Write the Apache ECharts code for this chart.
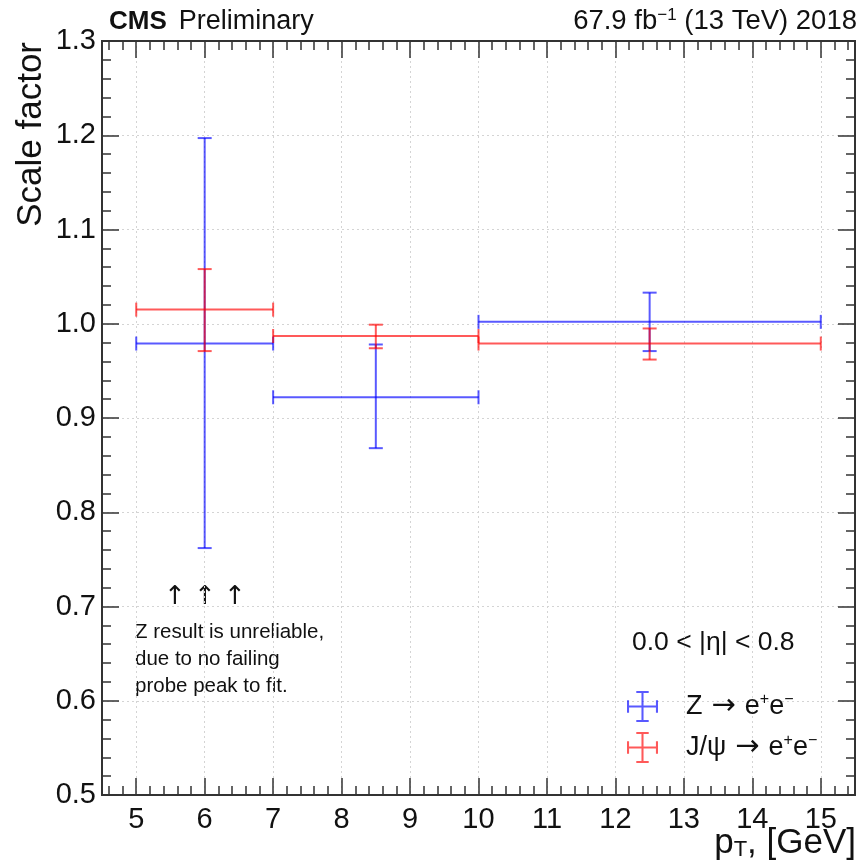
<!DOCTYPE html>
<html>
<head>
<meta charset="utf-8">
<script src="https://cdn.jsdelivr.net/npm/echarts@6/dist/echarts.min.js"></script>
<style>html,body{margin:0;padding:0;background:#fff;}#main{width:861px;height:868px;}</style>
</head>
<body>
<div id="main"></div>
<script>
// ---- data ----
const binLow = [5, 7, 10];
const binHigh = [7, 10, 15];
const binCenter = [6, 8.5, 12.5];
const zSF = [0.979, 0.922, 1.002];
const zLow = [0.762, 0.868, 0.971];
const zHigh = [1.197, 0.978, 1.033];
const jpsiSF = [1.015, 0.987, 0.979];
const jpsiLow = [0.971, 0.974, 0.962];
const jpsiHigh = [1.058, 0.999, 0.995];
const xMajorTicks = [5, 6, 7, 8, 9, 10, 11, 12, 13, 14, 15];
const yTickLabels = ['0.5', '0.6', '0.7', '0.8', '0.9', '1.0', '1.1', '1.2', '1.3'];
const annotationLines = ['Z result is unreliable,', 'due to no failing', 'probe peak to fit.'];

const xMinorTicks = [];
for (let v = 4.6; v < 15.5; v += 0.2) {
  const r = Math.round(v * 10) / 10;
  if (Math.abs(r - Math.round(r)) > 1e-6) xMinorTicks.push(r);
}

function rows(sf, lo, hi) {
  return sf.map((v, i) => [binLow[i], binHigh[i], binCenter[i], v, lo[i], hi[i]]);
}

const FONT = '"Liberation Sans", Arial, Helvetica, sans-serif';
const SYM = '"DejaVu Sans", sans-serif';
const TXT = '#111';
const GRID = {left: 102, right: 6, top: 41, bottom: 73};

function renderErr(params, api) {
  const xl = api.value(0), xh = api.value(1), xc = api.value(2);
  const y = api.value(3), yl = api.value(4), yh = api.value(5);
  const pL = api.coord([xl, y]), pH = api.coord([xh, y]);
  const pLo = api.coord([xc, yl]), pHi = api.coord([xc, yh]);
  const c = 7;
  const style = {stroke: api.visual('color'), lineWidth: 2, fill: null};
  const L = (x1, y1, x2, y2) => ({type: 'line', shape: {x1, y1, x2, y2}, style});
  return {type: 'group', children: [
    L(pL[0], pL[1], pH[0], pH[1]),
    L(pLo[0], pLo[1], pHi[0], pHi[1]),
    L(pL[0], pL[1] - c, pL[0], pL[1] + c),
    L(pH[0], pH[1] - c, pH[0], pH[1] + c),
    L(pLo[0] - c, pLo[1], pLo[0] + c, pLo[1]),
    L(pHi[0] - c, pHi[1], pHi[0] + c, pHi[1])
  ]};
}

const axisLine = {show: true, lineStyle: {color: '#333', width: 2}};
const splitLine = {show: true, lineStyle: {color: '#d4d4d4', width: 1, type: [2, 3]}};

const xBase = {type: 'value', min: 4.5, max: 15.5, axisLine: axisLine};
const yBase = {type: 'value', min: 0.5, max: 1.3, interval: 0.1};

const icon = 'path://M0,14h30v2h-30z M14,0h2v30h-2z M0,9h2v12h-2z M28,9h2v12h-2z M9,0h12v2h-12z M9,28h12v2h-12z';

const option = {
  animation: false,
  backgroundColor: '#fff',
  grid: [
    Object.assign({}, GRID),
    Object.assign({}, GRID)
  ],
  xAxis: [
    Object.assign({}, xBase, {gridIndex: 0, position: 'bottom',
      axisTick: {show: true, inside: true, length: 17, customValues: xMajorTicks, lineStyle: {color: '#333', width: 1.5}},
      axisLabel: {show: true, customValues: xMajorTicks, margin: 10, fontSize: 29, color: TXT, fontFamily: FONT},
      splitLine: splitLine}),
    Object.assign({}, xBase, {gridIndex: 0, position: 'top',
      axisTick: {show: true, inside: true, length: 17, customValues: xMajorTicks, lineStyle: {color: '#333', width: 1.5}},
      axisLabel: {show: false}, splitLine: {show: false}}),
    Object.assign({}, xBase, {gridIndex: 1, position: 'bottom',
      axisTick: {show: true, inside: true, length: 9, customValues: xMinorTicks, lineStyle: {color: '#333', width: 1.5}},
      axisLabel: {show: false}, splitLine: {show: false}}),
    Object.assign({}, xBase, {gridIndex: 1, position: 'top',
      axisTick: {show: true, inside: true, length: 9, customValues: xMinorTicks, lineStyle: {color: '#333', width: 1.5}},
      axisLabel: {show: false}, splitLine: {show: false}})
  ],
  yAxis: [
    Object.assign({}, yBase, {gridIndex: 0, position: 'left', axisLine: axisLine,
      axisTick: {show: true, inside: true, length: 17, lineStyle: {color: '#333', width: 1.5}},
      minorTick: {show: true, splitNumber: 5, length: 9, lineStyle: {color: '#333', width: 1.5}},
      axisLabel: {show: true, margin: 6, fontSize: 29, color: TXT, fontFamily: FONT,
        formatter: (v) => yTickLabels[Math.round((v - 0.5) * 10)]},
      splitLine: splitLine}),
    Object.assign({}, yBase, {gridIndex: 0, position: 'right', axisLine: axisLine,
      axisTick: {show: true, inside: true, length: 17, lineStyle: {color: '#333', width: 1.5}},
      minorTick: {show: true, splitNumber: 5, length: 9, lineStyle: {color: '#333', width: 1.5}},
      axisLabel: {show: false}, splitLine: {show: false}}),
    Object.assign({}, yBase, {gridIndex: 1, show: false})
  ],
  legend: {
    orient: 'vertical', left: 622, top: 686, itemWidth: 31, itemHeight: 32, itemGap: 10,
    icon: icon, selectedMode: false,
    data: ['Z', 'Jpsi'],
    formatter: (name) => name === 'Z' ? '{sp|}Z{ar|→}e{sup|+}e{sup|−}' : '{sp|}J/ψ{ar|→}e{sup|+}e{sup|−}',
    textStyle: {fontSize: 27, color: TXT, fontFamily: FONT,
      rich: {
        sp: {width: 23},
        ar: {fontSize: 29, fontFamily: SYM, color: TXT, padding: [0, 9, 0, 9]},
        sup: {fontSize: 16, verticalAlign: 'top', fontFamily: FONT, color: TXT}
      }}
  },
  series: [
    {name: 'Z', type: 'custom', xAxisIndex: 0, yAxisIndex: 0, renderItem: renderErr,
      itemStyle: {color: 'rgba(0,0,255,0.65)'},
      encode: {x: [0, 1, 2], y: [3, 4, 5]}, data: rows(zSF, zLow, zHigh), z: 3},
    {name: 'Jpsi', type: 'custom', xAxisIndex: 0, yAxisIndex: 0, renderItem: renderErr,
      itemStyle: {color: 'rgba(255,0,0,0.65)'},
      encode: {x: [0, 1, 2], y: [3, 4, 5]}, data: rows(jpsiSF, jpsiLow, jpsiHigh), z: 4}
  ],
  graphic: [
    {type: 'text', left: 109, top: 8, style: {
      text: '{b|CMS}{s|}{r|Preliminary}', fill: TXT,
      rich: {b: {fontSize: 26, fontWeight: 'bold', fontFamily: FONT, color: TXT},
             s: {width: 12},
             r: {fontSize: 27, fontFamily: FONT, color: TXT}}}},
    {type: 'text', right: 4, top: 7, style: {
      text: '{r|67.9 fb}{sup|−1}{r| (13 TeV) 2018}', fill: TXT,
      rich: {r: {fontSize: 27.5, fontFamily: FONT, color: TXT},
             sup: {fontSize: 17, verticalAlign: 'top', fontFamily: FONT, color: TXT}}}},
    {type: 'text', x: 31, y: 42, rotation: Math.PI / 2, style: {
      text: 'Scale factor', font: '35px ' + FONT, fill: TXT, align: 'right', verticalAlign: 'middle'}},
    {type: 'text', right: 5, top: 826, style: {
      text: '{r|p}{sub|T}{r|, [GeV]}', fill: TXT,
      rich: {r: {fontSize: 35, fontFamily: FONT, color: TXT},
             sub: {fontSize: 22, verticalAlign: 'bottom', fontFamily: FONT, color: TXT}}}},
    {type: 'text', x: 175, y: 597, style: {text: '↑', font: '26px ' + SYM, fill: TXT, align: 'center', verticalAlign: 'middle'}},
    {type: 'text', x: 205, y: 597, style: {text: '↑', font: '26px ' + SYM, fill: TXT, align: 'center', verticalAlign: 'middle'}},
    {type: 'text', x: 235, y: 597, style: {text: '↑', font: '26px ' + SYM, fill: TXT, align: 'center', verticalAlign: 'middle'}},
    {type: 'text', x: 135, y: 632, style: {text: annotationLines[0], font: '20.5px ' + FONT, fill: TXT, verticalAlign: 'middle'}},
    {type: 'text', x: 135, y: 659, style: {text: annotationLines[1], font: '20.5px ' + FONT, fill: TXT, verticalAlign: 'middle'}},
    {type: 'text', x: 135, y: 686, style: {text: annotationLines[2], font: '20.5px ' + FONT, fill: TXT, verticalAlign: 'middle'}},
    {type: 'text', x: 632, y: 643, style: {text: '0.0 < |η| < 0.8', font: '26.5px ' + FONT, fill: TXT, verticalAlign: 'middle'}}
  ]
};

const chart = echarts.init(document.getElementById('main'), null, {renderer: 'canvas'});
chart.setOption(option);
</script>
</body>
</html>
